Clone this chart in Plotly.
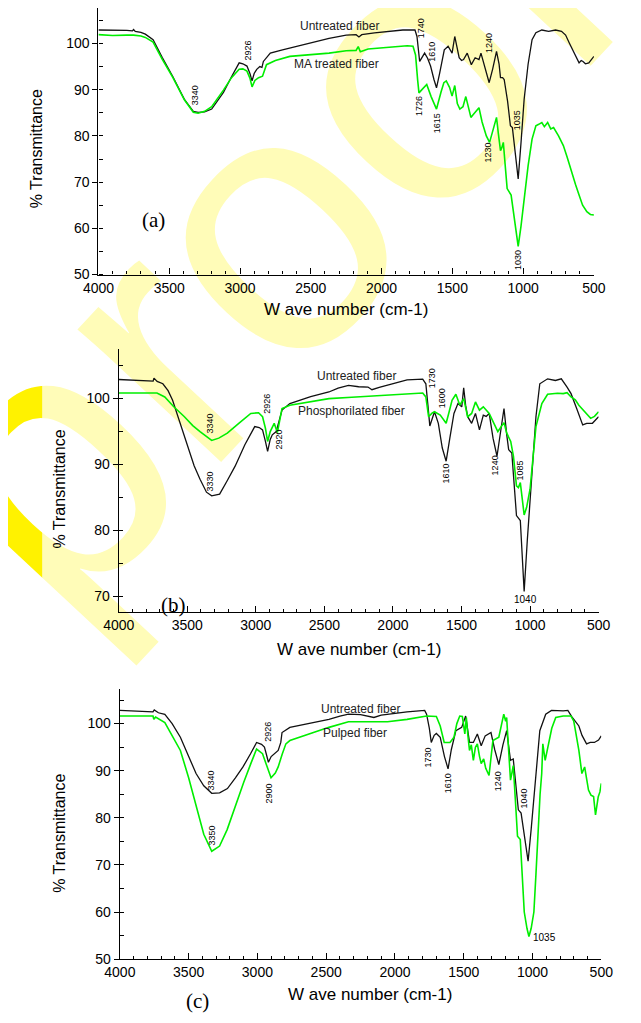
import plotly.graph_objects as go

# ---------------- data (wavenumber cm-1, % transmittance) ----------------
a_untreated_wn = [4000, 3900, 3800, 3760, 3752, 3740, 3700, 3669, 3614, 3550, 3476, 3393, 3330, 3296, 3250, 3200, 3117, 3060, 3006, 2980, 2951, 2930, 2915, 2900, 2882, 2860, 2845, 2835, 2786, 2700, 2648, 2500, 2371, 2250, 2180, 2160, 2140, 2050, 1957, 1850, 1764, 1750, 1731, 1715, 1696, 1675, 1654, 1630, 1612, 1590, 1570, 1557, 1530, 1502, 1483, 1465, 1452, 1435, 1421, 1395, 1380, 1366, 1339, 1312, 1298, 1270, 1240, 1215, 1188, 1170, 1160, 1145, 1134, 1110, 1090, 1076, 1060, 1035, 1015, 993, 965, 937, 910, 868, 820, 771, 729, 700, 674, 650, 630, 605, 590, 577, 560, 536, 500]
a_untreated_T = [102.9, 102.9, 102.8, 102.7, 103.0, 102.6, 102.4, 102.0, 100.8, 97.0, 92.9, 87.9, 85.3, 85.1, 85.2, 85.8, 89.4, 92.8, 95.8, 95.6, 95.1, 93.5, 91.9, 93.5, 94.4, 95.0, 94.8, 96.1, 97.9, 98.6, 99.0, 100.2, 101.1, 101.8, 101.9, 101.4, 101.9, 102.3, 102.6, 102.9, 102.9, 101.5, 96.1, 96.8, 97.9, 96.8, 95.1, 92.2, 90.4, 93.5, 97.0, 98.6, 99.4, 97.9, 101.5, 98.5, 96.9, 96.3, 96.5, 97.9, 96.8, 95.4, 96.9, 96.5, 97.9, 94.5, 91.5, 94.5, 98.3, 95.5, 92.6, 92.6, 92.2, 87.5, 82.2, 81.8, 77.0, 70.7, 78.5, 87.9, 95.5, 100.8, 102.3, 102.9, 102.6, 102.9, 102.6, 101.8, 100.1, 98.5, 97.5, 95.8, 96.3, 96.1, 95.6, 95.8, 97.2]

a_ma_wn = [4000, 3900, 3800, 3752, 3700, 3669, 3614, 3550, 3476, 3393, 3330, 3296, 3250, 3200, 3117, 3060, 3006, 2980, 2951, 2930, 2915, 2895, 2869, 2841, 2813, 2750, 2648, 2500, 2371, 2250, 2180, 2165, 2150, 2095, 1950, 1819, 1778, 1760, 1745, 1736, 1715, 1681, 1650, 1612, 1580, 1560, 1543, 1520, 1502, 1483, 1465, 1447, 1425, 1405, 1385, 1369, 1355, 1339, 1312, 1290, 1260, 1237, 1215, 1188, 1175, 1160, 1150, 1140, 1125, 1113, 1085, 1060, 1035, 1015, 993, 965, 937, 910, 890, 868, 850, 827, 805, 785, 750, 716, 690, 660, 630, 605, 580, 550, 525, 500]
a_ma_T = [101.9, 101.7, 101.8, 101.8, 101.6, 101.3, 100.3, 96.6, 92.7, 87.8, 85.1, 84.9, 85.3, 86.3, 89.9, 92.6, 94.4, 94.5, 94.0, 92.5, 90.6, 92.0, 92.6, 92.9, 95.4, 96.3, 97.2, 97.6, 97.9, 98.4, 98.5, 99.3, 98.2, 98.8, 99.1, 99.5, 99.4, 97.5, 92.0, 89.3, 90.0, 91.1, 88.5, 85.8, 89.5, 91.5, 91.9, 90.5, 88.6, 90.9, 87.0, 85.8, 86.3, 88.5, 86.0, 84.0, 84.5, 85.1, 86.1, 83.0, 80.0, 78.6, 81.0, 84.0, 80.5, 76.8, 77.5, 78.6, 73.0, 68.6, 67.2, 61.5, 56.1, 60.5, 66.4, 73.5, 79.3, 82.2, 82.5, 82.9, 82.0, 82.9, 81.5, 81.8, 80.0, 77.9, 75.5, 72.2, 69.5, 67.2, 65.0, 63.6, 63.0, 62.9]

b_untreated_wn = [4000, 3850, 3749, 3743, 3720, 3678, 3640, 3607, 3550, 3493, 3450, 3407, 3360, 3322, 3264, 3210, 3151, 3080, 3008, 2975, 2951, 2930, 2914, 2895, 2880, 2851, 2830, 2809, 2752, 2600, 2467, 2400, 2324, 2250, 2182, 2153, 2100, 2011, 1897, 1783, 1760, 1745, 1731, 1697, 1669, 1640, 1612, 1585, 1555, 1526, 1498, 1484, 1470, 1455, 1426, 1398, 1369, 1341, 1320, 1298, 1270, 1241, 1215, 1190, 1170, 1156, 1133, 1115, 1099, 1071, 1055, 1043, 1020, 991, 957, 929, 872, 815, 772, 730, 701, 660, 616, 587, 545, 500]
b_untreated_T = [102.9, 102.7, 102.65, 103.1, 102.6, 102.25, 101.2, 99.75, 96.0, 92.25, 89.8, 87.75, 85.8, 85.25, 85.5, 87.5, 89.75, 93.0, 95.75, 95.6, 95.25, 93.5, 92.0, 93.8, 94.5, 95.0, 96.5, 98.25, 99.25, 100.3, 101.0, 101.6, 102.0, 101.8, 101.75, 101.35, 101.7, 102.25, 102.85, 102.95, 102.25, 99.0, 95.85, 98.0, 96.25, 92.5, 90.5, 94.0, 97.75, 99.25, 98.75, 101.65, 99.0, 97.25, 96.25, 97.75, 95.25, 97.5, 97.3, 97.75, 94.0, 91.25, 95.0, 98.5, 94.5, 92.25, 91.75, 86.0, 82.25, 81.5, 76.0, 70.75, 78.5, 87.25, 97.25, 102.25, 103.0, 102.75, 103.0, 101.75, 100.75, 98.5, 96.0, 96.25, 96.25, 97.25]

b_phos_wn = [4000, 3800, 3721, 3664, 3600, 3521, 3460, 3407, 3322, 3270, 3208, 3120, 3037, 2980, 2951, 2930, 2914, 2895, 2880, 2866, 2843, 2825, 2809, 2752, 2600, 2467, 2300, 2182, 2000, 1897, 1783, 1760, 1740, 1715, 1697, 1655, 1612, 1590, 1569, 1541, 1512, 1484, 1455, 1426, 1398, 1369, 1341, 1298, 1260, 1235, 1190, 1170, 1141, 1121, 1099, 1085, 1071, 1055, 1043, 1025, 1000, 957, 914, 872, 800, 758, 730, 701, 670, 644, 600, 558, 530, 500]
b_phos_T = [100.85, 100.85, 100.85, 100.25, 98.8, 97.25, 95.9, 95.0, 93.65, 94.0, 94.75, 96.3, 97.75, 97.85, 97.25, 95.5, 93.5, 95.0, 95.75, 96.25, 94.85, 97.0, 98.5, 99.0, 99.5, 100.0, 100.2, 100.35, 100.6, 100.65, 100.85, 100.25, 97.25, 97.8, 98.0, 97.5, 96.25, 98.0, 99.75, 100.65, 99.0, 100.0, 97.25, 97.75, 99.5, 98.25, 98.75, 97.75, 96.0, 95.0, 96.35, 94.75, 93.5, 91.25, 86.75, 86.5, 87.25, 84.5, 82.35, 83.5, 86.25, 95.75, 99.25, 100.65, 100.8, 100.75, 100.9, 100.25, 99.8, 99.0, 98.0, 97.0, 97.3, 98.0]

c_untreated_wn = [4000, 3850, 3780, 3759, 3750, 3720, 3673, 3620, 3560, 3500, 3446, 3390, 3332, 3275, 3218, 3160, 3105, 3050, 3006, 2970, 2949, 2935, 2920, 2900, 2878, 2849, 2830, 2821, 2764, 2600, 2480, 2400, 2338, 2250, 2196, 2153, 2100, 2054, 1912, 1784, 1770, 1750, 1736, 1715, 1699, 1671, 1640, 1614, 1590, 1557, 1515, 1486, 1472, 1458, 1430, 1401, 1373, 1344, 1302, 1275, 1245, 1215, 1188, 1170, 1160, 1140, 1120, 1103, 1083, 1060, 1032, 1010, 990, 965, 947, 904, 862, 777, 743, 715, 692, 663, 640, 607, 580, 550, 520, 500]
c_untreated_T = [102.8, 102.7, 102.6, 102.5, 102.9, 102.3, 101.96, 100.0, 97.1, 93.0, 89.4, 86.8, 85.2, 85.3, 86.2, 88.5, 90.8, 93.6, 96.0, 95.6, 95.0, 93.5, 91.8, 93.0, 93.6, 94.3, 96.0, 98.1, 99.2, 100.2, 100.9, 101.6, 102.0, 101.9, 101.6, 101.3, 101.8, 102.0, 102.5, 102.8, 102.0, 99.0, 96.0, 97.5, 97.9, 97.1, 93.0, 90.4, 94.5, 98.5, 99.2, 101.6, 99.0, 96.0, 96.0, 97.8, 95.3, 97.4, 98.1, 94.5, 91.3, 95.5, 98.5, 94.0, 92.2, 92.5, 87.0, 81.7, 81.0, 76.0, 70.8, 77.5, 83.8, 92.0, 98.5, 102.0, 102.8, 102.7, 102.8, 101.5, 100.6, 99.5, 97.5, 95.7, 96.0, 96.0, 96.5, 97.4]

c_pulped_wn = [4000, 3850, 3759, 3753, 3740, 3673, 3620, 3560, 3500, 3446, 3390, 3332, 3275, 3220, 3162, 3100, 3048, 3006, 2963, 2930, 2901, 2870, 2849, 2820, 2793, 2764, 2600, 2480, 2338, 2200, 2054, 1912, 1770, 1699, 1671, 1642, 1600, 1571, 1550, 1529, 1510, 1492, 1481, 1470, 1458, 1445, 1430, 1415, 1401, 1385, 1373, 1355, 1340, 1316, 1300, 1288, 1245, 1225, 1209, 1195, 1188, 1175, 1160, 1150, 1140, 1125, 1109, 1089, 1075, 1060, 1040, 1026, 1010, 990, 975, 961, 945, 933, 925, 908, 879, 860, 831, 777, 720, 700, 692, 675, 663, 641, 621, 605, 593, 575, 556, 542, 530, 522, 510, 500]
c_pulped_T = [101.6, 101.6, 101.6, 100.9, 101.4, 100.2, 97.5, 94.3, 88.5, 82.4, 76.5, 72.9, 74.0, 77.5, 82.4, 87.5, 91.5, 94.6, 93.6, 91.0, 88.5, 89.5, 90.8, 93.5, 95.7, 96.4, 98.0, 99.2, 100.4, 100.4, 100.4, 100.9, 101.6, 101.5, 99.5, 96.0, 96.0, 97.1, 100.0, 101.6, 101.5, 97.8, 101.3, 97.5, 94.3, 95.5, 92.2, 95.0, 95.7, 93.0, 91.5, 92.5, 90.5, 89.0, 93.5, 96.4, 97.1, 99.5, 102.0, 100.5, 101.3, 95.0, 88.0, 89.5, 91.1, 84.0, 76.1, 75.4, 67.5, 60.0, 56.5, 54.8, 56.5, 60.0, 68.0, 76.8, 85.0, 89.4, 95.7, 92.2, 96.4, 99.0, 101.3, 101.6, 101.6, 100.5, 99.2, 96.5, 94.3, 89.4, 90.8, 88.0, 85.9, 84.8, 84.5, 80.6, 83.5, 84.5, 85.5, 87.3]

x_tick_vals = [4000, 3500, 3000, 2500, 2000, 1500, 1000, 500]
x_tick_text = ["4000", "3500", "3000", "2500", "2000", "1500", "1000", "500"]

# peak labels: (text, wavenumber, %T)
a_peaks = [("2926", 2945, 98.4), ("3340", 3317, 88.8), ("1740", 1724, 103.2), ("1610", 1643, 98.2),
           ("1726", 1731, 86.4), ("1615", 1609, 82.7), ("1240", 1238, 100.2), ("1230", 1251, 76.3),
           ("1035", 1042, 83.4), ("1030", 1035, 53.2)]
b_peaks = [("2926", 2920, 99.2), ("3340", 3338, 96.3), ("2920", 2830, 93.8), ("3330", 3338, 87.5),
           ("1730", 1714, 103.1), ("1600", 1645, 100.0), ("1610", 1610, 88.7), ("1240", 1254, 89.9),
           ("1085", 1073, 89.1)]
c_peaks = [("2926", 2925, 98.2), ("3340", 3335, 88.0), ("2900", 2918, 85.1), ("3350", 3328, 76.3),
           ("1730", 1757, 92.9), ("1610", 1612, 87.4), ("1240", 1250, 87.8), ("1040", 1062, 84.1)]

BLACK = "#111111"
GREEN = "#00EE00"
FONT = "Liberation Sans, Arial, sans-serif"
OFF = 8                      # page body margin of the html page
W, H = 641 - OFF, 1023 - OFF


def px(x):
    return (x - OFF) / W


def py(y):
    return 1 - (y - OFF) / H


fig = go.Figure()

panels = [
    ("", (85.9, 604.3), (8, 276.7), (50, 107.66), a_untreated_wn, a_untreated_T, a_ma_wn, a_ma_T),
    ("2", (107.1, 609.2), (352, 617), (67.59, 107.48), b_untreated_wn, b_untreated_T, b_phos_wn, b_phos_T),
    ("3", (108.3, 612.0), (694, 966.7), (50, 107.43), c_untreated_wn, c_untreated_T, c_pulped_wn, c_pulped_T),
]

layout_axes = {}
for suf, xd, yd, yr, uw, ut, tw, tt in panels:
    xa, ya = "x" + suf, "y" + suf
    fig.add_trace(go.Scatter(x=uw, y=ut, mode="lines", line=dict(color=BLACK, width=1.3),
                             xaxis=xa, yaxis=ya, showlegend=False, hoverinfo="skip"))
    fig.add_trace(go.Scatter(x=tw, y=tt, mode="lines", line=dict(color=GREEN, width=1.6),
                             xaxis=xa, yaxis=ya, showlegend=False, hoverinfo="skip"))
    yvals = [70, 80, 90, 100] if suf == "2" else [50, 60, 70, 80, 90, 100]
    layout_axes["xaxis" + suf] = dict(
        domain=[px(xd[0]), px(xd[1])], range=[4000, 500], anchor=ya,
        tickvals=x_tick_vals, ticktext=x_tick_text, ticks="inside", ticklen=6, tickwidth=1,
        tickcolor="black", showline=True, linecolor="black", linewidth=1.3,
        showgrid=False, zeroline=False, tickfont=dict(family=FONT, size=14, color="black"),
        minor=dict(dtick=100, tick0=0, ticks="inside", ticklen=3, tickcolor="black", tickwidth=1),
    )
    layout_axes["yaxis" + suf] = dict(
        domain=[py(yd[1]), py(yd[0])], range=list(yr), anchor=xa,
        tickvals=yvals, ticks="outside", ticklen=5, tickwidth=1, tickcolor="black",
        showline=True, linecolor="black", linewidth=1.3, showgrid=False, zeroline=False,
        tickfont=dict(family=FONT, size=14, color="black"),
        minor=dict(dtick=5, tick0=0, ticks="inside", ticklen=4, tickcolor="black", tickwidth=1),
    )

annotations = []


def note(**kw):
    kw.setdefault("showarrow", False)
    kw.setdefault("xanchor", "center")
    kw.setdefault("yanchor", "middle")
    annotations.append(kw)


def peak(txt, x, y, xa, ya):
    note(text=txt, x=x, y=y, xref=xa, yref=ya, textangle=-90,
         font=dict(family=FONT, size=9, color="black"))


for t, x, y in a_peaks:
    peak(t, x, y, "x", "y")
for t, x, y in b_peaks:
    peak(t, x, y, "x2", "y2")
for t, x, y in c_peaks:
    peak(t, x, y, "x3", "y3")

note(text="1040", x=1031, y=69.5, xref="x2", yref="y2", font=dict(family=FONT, size=10, color="black"))
note(text="1035", x=910, y=54.6, xref="x3", yref="y3", font=dict(family=FONT, size=10, color="black"))


def lab(txt, x, y, xa, ya):
    note(text=txt, x=x, y=y, xref=xa, yref=ya, font=dict(family=FONT, size=12, color="#222222"))


lab("Untreated fiber", 2298, 103.8, "x", "y")
lab("MA treated fiber", 2319, 95.6, "x", "y")
lab("Untreated fiber", 2264, 103.4, "x2", "y2")
lab("Phosphorilated fiber", 2299, 98.1, "x2", "y2")
lab("Untreated fiber", 2250, 103.2, "x3", "y3")
lab("Pulped fiber", 2292, 98.0, "x3", "y3")

# axis titles and panel letters (page pixel positions -> paper)
for (cx, cy) in [(345, 312), (358, 655), (370, 1002)]:
    note(text="W ave number (cm-1)", x=px(cx), y=py(cy), xref="paper", yref="paper",
         font=dict(family=FONT, size=17, color="black"))
for (cx, cy) in [(22, 150), (45, 493), (45, 840)]:
    note(text="% Transmittance", x=px(cx), y=py(cy), xref="paper", yref="paper", textangle=-90,
         font=dict(family=FONT, size=16, color="black"))
for txt, (cx, cy) in [("(a)", (143, 222)), ("(b)", (164, 610)), ("(c)", (190, 1009))]:
    note(text=txt, x=px(cx), y=py(cy), xref="paper", yref="paper",
         font=dict(family="Liberation Serif, Times New Roman, serif", size=21, color="black"))

# watermark (behind the plots)
wm_cx, wm_cy = 226, 214
shapes = [
    dict(type="rect", xref="paper", yref="paper", layer="below",
         x0=px(wm_cx - 5), x1=px(wm_cx + 5), y0=py(wm_cy + 5), y1=py(wm_cy - 5),
         line=dict(width=0), fillcolor="rgba(0,0,0,0)",
         label=dict(text="proof", textangle=-47, textposition="middle center",
                    font=dict(family=FONT, size=370, color="#FFF200"))),
    dict(type="rect", xref="paper", yref="paper", layer="below",
         x0=px(27), x1=1, y0=0, y1=1, line=dict(width=0), fillcolor="rgba(255,255,255,0.72)"),
]

fig.update_layout(
    width=W, height=H, margin=dict(l=0, r=0, t=0, b=0),
    paper_bgcolor="white", plot_bgcolor="rgba(0,0,0,0)",
    showlegend=False, annotations=annotations, shapes=shapes,
    **layout_axes,
)

fig.write_html("out.html")
